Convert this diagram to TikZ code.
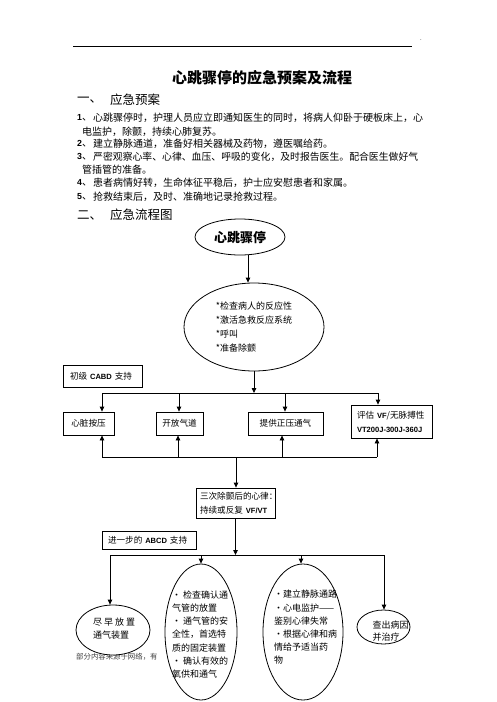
\documentclass[tikz,border=0pt]{standalone}
\usepackage{fontspec}
\setmainfont{Noto Sans CJK SC}
\newfontfamily\latfont{Liberation Sans}[Scale=0.88]
\usetikzlibrary{arrows.meta,shapes.geometric}
\newcommand\eng[1]{{\latfont\bfseries #1}}
\begin{document}
\begin{tikzpicture}[x=1pt,y=-1pt,
  every node/.style={inner sep=0pt},
  txt/.style={anchor=west,align=left},
  para/.style={txt,font=\fontsize{10}{12}\selectfont},
  head/.style={txt,font=\fontsize{12.5}{14}\selectfont},
  box/.style={draw,line width=0.8pt,font=\fontsize{8.6}{14}\selectfont},
  oval/.style={draw,ellipse,fill=white,line width=0.8pt},
  small/.style={txt,font=\fontsize{9}{13.2}\selectfont},
  arr/.style={line width=0.8pt,-{Triangle[length=5pt,width=4.5pt]}},
  bus/.style={line width=0.8pt}]
\useasboundingbox (0,0) rectangle (496,702);
\draw[line width=0.9pt] (73,46) -- (412,46);
\node[font=\fontsize{6}{6}\selectfont] (dot) at (421,40) {.};
\node[font=\fontsize{15}{15}\bfseries] (title) at (262,78) {心跳骤停的应急预案及流程};
\node[head] (sec1num) at (77,100) {一、};
\node[head] (sec1) at (110,100) {应急预案};
\node[para] (n1) at (77,118) {\eng{1}、};
\node[para] (l1a) at (93,118) {心跳骤停时，护理人员应立即通知医生的同时，将病人仰卧于硬板床上，心};
\node[para] (l1b) at (82,132) {电监护，除颤，持续心肺复苏。};
\node[para] (n2) at (77,143.5) {\eng{2}、};
\node[para] (l2) at (93,143.5) {建立静脉通道，准备好相关器械及药物，遵医嘱给药。};
\node[para] (n3) at (77,157) {\eng{3}、};
\node[para,font=\fontsize{9.85}{12}\selectfont] (l3a) at (93,157) {严密观察心率、心律、血压、呼吸的变化，及时报告医生。配合医生做好气};
\node[para] (l3b) at (82,170) {管插管的准备。};
\node[para] (n4) at (77,183) {\eng{4}、};
\node[para] (l4) at (93,183) {患者病情好转，生命体征平稳后，护士应安慰患者和家属。};
\node[para] (n5) at (77,196.5) {\eng{5}、};
\node[para] (l5) at (93,196.5) {抢救结束后，及时、准确地记录抢救过程。};
\node[head] (sec2num) at (77,215) {二、};
\node[head] (sec2) at (110,215) {应急流程图};
\node[txt,font=\fontsize{7.4}{7.4}\selectfont,text=black!75] (note) at (76,657) {部分内容来源于网络，有};
\node[oval,minimum width=90pt,minimum height=36pt,font=\fontsize{13}{13}\bfseries] (stop) at (240,237) {心跳骤停};
\node[oval,minimum width=140pt,minimum height=88pt,align=left,font=\fontsize{9}{13.8}\selectfont] (check) at (254,327) {*检查病人的反应性\\*激活急救反应系统\\*呼叫\\*准备除颤};
\node[box,minimum width=79pt,minimum height=22pt,text width=65pt,align=left] (cabd) at (102.5,376) {\mbox{初级 \eng{CABD} 支持}};
\node[box,minimum width=51pt,minimum height=23pt] (press) at (88.5,423.5) {心脏按压};
\node[box,minimum width=47pt,minimum height=23pt] (airway) at (179.5,423.5) {开放气道};
\node[box,minimum width=75pt,minimum height=23pt] (breath) at (285.5,423.5) {提供正压通气};
\node[box,minimum width=81pt,minimum height=33pt,text width=69pt,align=left] (assess) at (391.5,421.5) {\mbox{评估 \eng{VF}/无脉搏性}\\\mbox{\eng{VT200J-300J-360J}}};
\node[box,minimum width=79pt,minimum height=30pt,text width=71pt,align=left] (rhythm) at (235.5,503) {\mbox{三次除颤后的心律：}\\\mbox{持续或反复 \eng{VF/VT}}};
\node[box,minimum width=94pt,minimum height=18pt,text width=82pt,align=left] (abcd) at (149,540) {\mbox{进一步的 \eng{ABCD} 支持}};
\node[oval,minimum width=74pt,minimum height=50pt] (device) at (113,630) {};
\node[small] (devicetxt) at (93,628.5) {尽 早 放 置\\通气装置};
\node[oval,minimum width=72pt,minimum height=136pt] (tube) at (201,632) {};
\node[small] (tubetxt) at (172,634.5) {· 检查确认通\\气管的放置\\· 通气管的安\\全性，首选特\\质的固定装置\\· 确认有效的\\氧供和通气};
\node[oval,minimum width=80pt,minimum height=136pt] (drugs) at (303,632) {};
\node[small] (drugstxt) at (274,627.5) {·建立静脉通路\\·心电监护——\\鉴别心律失常\\·根据心律和病\\情给予适当药\\物};
\node[oval,minimum width=53pt,minimum height=34pt] (cause) at (383.5,627) {};
\node[small,font=\fontsize{9}{12.5}\selectfont] (causetxt) at (372.5,631) {查出病因\\并治疗};
\coordinate (top0) at (254,393);
\coordinate (t1) at (102,393);
\coordinate (t2) at (179,393);
\coordinate (t3) at (285,393);
\coordinate (t4) at (378,393);
\coordinate (b0) at (236,457);
\coordinate (b1) at (102,457);
\coordinate (b2) at (178,457);
\coordinate (b3) at (282,457);
\coordinate (b4) at (377,457);
\coordinate (m1) at (110,555);
\coordinate (m2) at (201,555);
\coordinate (m3) at (301,555);
\coordinate (m4) at (384,555);
\draw[arr] ([xshift=8pt]stop.south) -- ([xshift=8pt]stop.south |- check.north);
\draw[arr] (check.south) -- (top0);
\draw[bus] (t1) -- (t4);
\draw[arr] (t1) -- (t1 |- press.north);
\draw[arr] (t2) -- (t2 |- airway.north);
\draw[arr] (t3) -- (t3 |- breath.north);
\draw[arr] (t4) -- (t4 |- assess.north);
\draw[bus] (b1) -- (b4);
\draw[arr] (b1) -- (b1 |- press.south);
\draw[arr] (b2) -- (b2 |- airway.south);
\draw[arr] (b3) -- (b3 |- breath.south);
\draw[arr] (b4) -- (b4 |- assess.south);
\draw[arr] (b0) -- (b0 |- rhythm.north);
\draw[arr] (rhythm.south) -- (rhythm.south |- m1);
\draw[bus] (m1) -- (m4);
\draw[arr] (m1) -- (m1 |- device.north);
\draw[arr] (m2) -- (m2 |- tube.north);
\draw[arr] (m3) -- (m3 |- drugs.north);
\draw[arr] (m4) -- (m4 |- cause.north);
\end{tikzpicture}
\end{document}
